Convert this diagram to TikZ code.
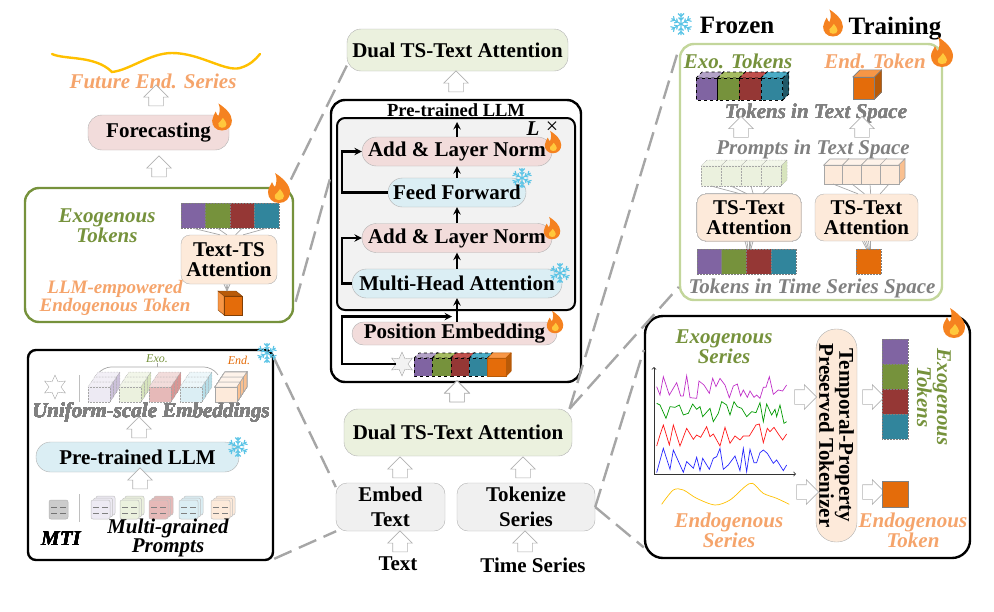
\documentclass[tikz,border=0pt]{standalone}
\usepackage{fontspec}
\setmainfont{Liberation Serif}
\usetikzlibrary{shapes.geometric,shapes.arrows}

\definecolor{zoomgray}{HTML}{A6A6A6}
\definecolor{exogreen}{HTML}{76923C}
\definecolor{endorange}{HTML}{F5A46B}
\definecolor{boxgreen}{HTML}{C3D69B}
\definecolor{pinkfill}{HTML}{F2DCDB}
\definecolor{icefill}{HTML}{DBEEF4}
\definecolor{peachfill}{HTML}{FDEADA}
\definecolor{sagefill}{HTML}{EBF1DE}
\definecolor{curveyellow}{HTML}{FFC000}
\definecolor{flameorange}{HTML}{F58220}
\definecolor{flameyellow}{HTML}{FFC83C}
\definecolor{snowblue}{HTML}{5BC4E6}
% token colours
\definecolor{purfront}{HTML}{8064A2}\definecolor{purtop}{HTML}{B3A2C7}\definecolor{purside}{HTML}{60497A}
\definecolor{grnfront}{HTML}{76923C}\definecolor{grntop}{HTML}{A6BC62}\definecolor{grnside}{HTML}{4F6228}
\definecolor{redfront}{HTML}{953735}\definecolor{redtop}{HTML}{C0504D}\definecolor{redside}{HTML}{632523}
\definecolor{telfront}{HTML}{31859C}\definecolor{teltop}{HTML}{4BACC6}\definecolor{telside}{HTML}{215968}
\definecolor{orafront}{HTML}{E46C0A}\definecolor{oratop}{HTML}{F79646}\definecolor{oraside}{HTML}{B85A08}
% washed out versions
\definecolor{lpurfront}{HTML}{EDEAF3}\definecolor{lpurtop}{HTML}{F2EFF6}\definecolor{lpurside}{HTML}{CCC1DA}
\definecolor{lgrnfront}{HTML}{EBF1DE}\definecolor{lgrntop}{HTML}{F2F6E9}\definecolor{lgrnside}{HTML}{D7E4BD}
\definecolor{lredfront}{HTML}{E6B9B8}\definecolor{lredtop}{HTML}{F2DCDB}\definecolor{lredside}{HTML}{D99694}
\definecolor{lblufront}{HTML}{DBEEF4}\definecolor{lblutop}{HTML}{EDF7FA}\definecolor{lbluside}{HTML}{B7DEE8}
\definecolor{lorafront}{HTML}{FDEADA}\definecolor{loratop}{HTML}{FEF3EA}\definecolor{loraside}{HTML}{FAC090}

\tikzstyle{block} = [rectangle, rounded corners=14pt, draw=gray!60, align=center, inner sep=0pt, font=\fontsize{21}{20}\selectfont\bfseries]
\tikzstyle{pill} = [block, rounded corners=14.5pt, minimum height=29pt]
\tikzstyle{frame} = [rectangle, rounded corners=14pt, line width=2.4pt, draw=black, inner sep=0pt]
\tikzstyle{boldlabel} = [align=center, inner sep=0pt, font=\fontsize{21}{20}\selectfont\bfseries]
\tikzstyle{italabel} = [align=center, inner sep=0pt, font=\fontsize{21}{20}\selectfont\bfseries\itshape]
\tikzstyle{exolabel} = [italabel, text=exogreen]
\tikzstyle{endlabel} = [italabel, text=endorange]
\tikzstyle{graylabel} = [italabel, text=gray]
\tikzstyle{flowline} = [line width=2.2pt, ->, >=stealth]
\tikzstyle{zoomline} = [draw=zoomgray, line width=2.4pt, dash pattern=on 19pt off 8pt]
\tikzstyle{linkline} = [draw=gray!70, line width=0.7pt]
\tikzstyle{rightarrow} = [single arrow, draw=gray!60, fill=white, line width=0.6pt, inner xsep=0pt, inner ysep=7pt, minimum height=22pt, single arrow head extend=5pt]
\tikzstyle{uparrow} = [rightarrow, rotate=90, minimum height=21pt]
\tikzstyle{tokcell} = [rectangle, inner sep=0pt, draw=gray, densely dotted, line width=0.5pt]
\tikzstyle{starmark} = [star, star points=6, star point ratio=2, draw=gray!70, inner sep=0pt, minimum size=24pt]

\tikzset{
  flame/.pic={
    \fill[flameorange] (-4,-15) .. controls (4,-10) and (11,-3) .. (11,4) .. controls (11,10) and (7,15) .. (0,15)
      .. controls (-7,15) and (-11,10) .. (-11,4) .. controls (-11,0) and (-8,-3) .. (-7,-6)
      .. controls (-6,-3) and (-5,-2) .. (-4,-1) .. controls (-2,-6) and (-2,-11) .. (-4,-15) -- cycle;
    \fill[flameyellow] (1,1) .. controls (3,4) and (5,6) .. (5,8) .. controls (5,11) and (3,12) .. (0,12)
      .. controls (-3,12) and (-5,10) .. (-4,7) .. controls (-3,5) and (0,4) .. (1,1) -- cycle;
  },
  snowflake/.pic={
    \foreach \a in {0,60,...,300}
      \draw[rotate=\a, draw=snowblue, line width=1.1pt] (0,0) -- (0,-11)
        (0,-7.5) -- (-3,-10.5) (0,-7.5) -- (3,-10.5) (0,-4) -- (-2.5,-6.5) (0,-4) -- (2.5,-6.5);
  }
}

% [style]{x}{y}{w}{h}{dx}{dy}{palette}
\newcommand{\tokblock}[8][]{
  \draw[#1, fill=#8top] (#2,#3) -- ++(#6,-#7) -- ++(#4,0) -- ++(-#6,#7) -- cycle;
  \draw[#1, fill=#8side] ({#2+#4},#3) -- ++(#6,-#7) -- ++(0,#5) -- ++(-#6,#7) -- cycle;
  \draw[#1, fill=#8front] (#2,#3) rectangle ++(#4,#5);
}
% {x}{y}{palette}
\newcommand{\promptdoc}[3]{
  \foreach \k in {2,1,0}
    \draw[draw=gray!50, fill=#3front, rounded corners=2pt, line width=0.5pt] ({#1+2.5*\k},{#2-2*\k}) rectangle ++(19,19);
  \draw[gray, line width=0.7pt] ({#1+2},{#2+7}) -- ++(6,0) ({#1+11},{#2+7}) -- ++(6,0) ({#1+2},{#2+13}) -- ++(6,0) ({#1+11},{#2+13}) -- ++(6,0);
}

\begin{document}
\begin{tikzpicture}[x=1pt, y=-1pt]
    \useasboundingbox (0,0) rectangle (994,611);

    % left column, forecasting
    \draw [line width=2.4pt, color=curveyellow, line cap=round] (52,54) .. controls (65,60) and (95,55) .. (112,72) .. controls (130,70) and (150,53) .. (172,53) .. controls (200,53) and (225,72) .. (240,68) .. controls (250,65) and (255,60) .. (260,54);
    \node (future) [endlabel] at (153,81) {Future End. Series};
    \node (forecast) [block, fill=pinkfill, minimum width=141pt, minimum height=35pt, rounded corners=14pt] at (158.5,132.5) {Forecasting};
    \node (exobox) [frame, draw=exogreen, minimum width=268pt, minimum height=134pt] at (159,255) {};
    \node (up1) [uparrow] at (156,99) {};
    \node (up2) [uparrow] at (159,170) {};
    \node (exolab) [exolabel] at (107,226) {Exogenous\\Tokens};
    \foreach \c [count=\i] in {purfront,grnfront,redfront,telfront}
        \node (lt\i) [tokcell, fill=\c, minimum width=24.5pt, minimum height=25pt] at ({168.5+24.5*\i},215.5) {};
    \node (textts) [block, fill=peachfill, rounded corners=9pt, minimum width=96pt, minimum height=49pt] at (229,259.5) {Text-TS\\Attention};
    \foreach \i/\a in {1/110,2/95,3/75,4/60}
        \draw [linkline] (lt\i.south) -- (textts.\a);
    \draw [draw=oraside!70!black, fill=oraside, line width=0.4pt] (218,291) -- (236,291) -- (242,296) -- (224,296) -- cycle;
    \draw [draw=oraside!70!black, fill=oratop, line width=0.4pt] (218,291) -- (224,296) -- (224,315) -- (218,310) -- cycle;
    \node (endcube) [rectangle, inner sep=0pt, draw=oraside!70!black, line width=0.4pt, fill=orafront, minimum width=18pt, minimum height=19pt] at (233,305.5) {};
    \coordinate (cubetop) at (227,291);
    \foreach \a in {-3,-1,1,3}
        \draw [linkline] ([xshift=\a pt]textts.south -| cubetop) -- (cubetop);
    \node (llmlab) [endlabel, font=\fontsize{19}{17}\selectfont\bfseries\itshape] at (115,298) {LLM-empowered\\Endogenous Token};

    % left column, prompts
    \node (llmbox) [frame, rounded corners=8pt, minimum width=245pt, minimum height=210pt] at (150.5,455) {};
    \node (exosmall) [italabel, font=\fontsize{12}{12}\selectfont\itshape, text=exogreen] at (157,359) {Exo.};
    \node (endsmall) [italabel, font=\fontsize{12}{12}\selectfont\itshape, text=orafront] at (239,360) {End.};
    \draw [linkline, rounded corners=8pt] (97,375) -- (103,367) -- (212,367) -- (218,375);
    \coordinate (bracetop) at (157,367);
    \draw [linkline] (exosmall.south) -- (bracetop);
    \node (starl) [starmark, fill=white] at (55,387) {};
    \draw [line width=1pt, draw=gray!50] (79,375) -- (79,402);
    \foreach \x/\p in {88/lpur,119/lgrn,149/lred,180/lblu}
        \foreach \k in {2,1,0}
            \tokblock[draw=gray!70, densely dotted, line width=0.5pt]{\x+3.3*\k}{387-5*\k}{22}{15}{3.3}{5}{\p}
    \foreach \k in {2,1,0}
        \tokblock[draw=gray!70, line width=0.5pt]{215+3.3*\k}{387-5*\k}{22}{15}{3.3}{5}{lora}
    \node (uniform) [graylabel] at (151,412) {Uniform-scale Embeddings};
    \node (up3) [uparrow] at (139,431) {};
    \node (pllm) [pill, fill=icefill, minimum width=203pt, minimum height=30pt] at (137.5,457) {Pre-trained LLM};
    \node (up4) [uparrow] at (140,482) {};
    \draw [draw=gray!60, fill=gray!40, rounded corners=2pt, line width=0.5pt] (49,500) rectangle ++(19,19);
    \draw [gray!90!black, line width=0.7pt] (51,507) -- ++(6,0) (60,507) -- ++(6,0) (51,513) -- ++(6,0) (60,513) -- ++(6,0);
    \draw [line width=1pt, draw=gray!50] (79,494) -- (79,522);
    \foreach \x/\p in {91/lpur,120/lgrn,149/lred,179/lblu,211/lora}
        \promptdoc{\x}{500}{\p}
    \node (mti) [italabel, text=black] at (61,539) {MTI};
    \node (grained) [italabel, text=black, font=\fontsize{21}{17}\selectfont\bfseries\itshape] at (168,538) {Multi-grained\\Prompts};

    % middle column
    \node (topdual) [block, fill=sagefill, minimum width=221pt, minimum height=42pt] at (457.5,50) {Dual TS-Text Attention};
    \node (up5) [uparrow] at (456,85) {};
    \node (bigllm) [frame, minimum width=250pt, minimum height=282pt] at (456,241) {};
    \node (llmtitle) [boldlabel, font=\fontsize{18.5}{20}\selectfont\bfseries] at (456,110) {Pre-trained LLM};
    \node (layers) [frame, rounded corners=8pt, line width=2pt, fill=gray!10, minimum width=238pt, minimum height=192pt] at (456,214) {};
    \node (lname) [italabel, text=black] at (533,129) {L};
    \node (ltimes) [boldlabel, font=\fontsize{22}{22}\selectfont] at (552,128) {×};
    \node (msa) [pill, fill=icefill, minimum width=210pt] at (457,283.5) {Multi-Head Attention};
    \node (addb) [pill, fill=pinkfill, minimum width=190pt, above of=msa, node distance=45.5pt] {Add \& Layer Norm};
    \node (ffwd) [pill, fill=icefill, minimum width=138pt, above of=addb, node distance=45.5pt] {Feed Forward};
    \node (addt) [pill, fill=pinkfill, minimum width=190pt, above of=ffwd, node distance=41pt] {Add \& Layer Norm};
    \coordinate (layerout) at (457,122);
    \node (posemb) [pill, fill=pinkfill, minimum width=205pt, minimum height=23pt, rounded corners=11.5pt] at (454.5,333.5) {Position Embedding};
    \draw [flowline] (addt) ++(0,-15) -- (layerout);
    \draw [flowline] (ffwd.north) -- (addt.south);
    \draw [flowline] (addb.north) -- (ffwd.south);
    \draw [flowline] (msa.north) -- (addb.south);
    \draw [flowline] (posemb.north -| msa) -- (msa.south);
    \coordinate (railb) at (342,170);
    \coordinate (railm) at (342,260);
    \coordinate (railp) at (342,340);
    \coordinate (railend) at (452,316.5);
    \draw [flowline, rounded corners=0pt] (ffwd.west) -| (railb) |- (addt.west);
    \draw [flowline] (msa.west) -| (railm) |- (addb.west);
    \node (stark) [starmark, fill=gray!10] at (402,364) {};
    \draw [flowline] (stark.west) -| (railp) |- (railend);
    \foreach \x/\p in {414/pur,432.4/grn,450.8/red,469.2/tel}
        \tokblock[draw=black, dashed, line width=0.6pt]{\x}{358}{18.4}{18}{5}{5}{\p}
    \tokblock[draw=oraside, line width=0.4pt]{487.6}{358}{18.4}{18}{5}{5}{ora}
    \node (up6) [uparrow] at (457,395) {};
    \node (botdual) [block, fill=sagefill, minimum width=228pt, minimum height=47pt] at (458,432.5) {Dual TS-Text Attention};
    \node (embed) [block, fill=gray!12, rounded corners=11pt, minimum width=109pt, minimum height=48pt, font=\fontsize{21}{25}\selectfont\bfseries] at (390.5,507) {Embed\\Text};
    \node (tokz) [block, fill=gray!12, rounded corners=11pt, minimum width=138pt, minimum height=48pt, font=\fontsize{21}{25}\selectfont\bfseries] at (526,507) {Tokenize\\Series};
    \node (up7) [uparrow] at (400,471) {};
    \node (up8) [uparrow] at (523,471) {};
    \node (up9) [uparrow] at (400,545) {};
    \node (up10) [uparrow] at (525,545) {};
    \node (textin) [boldlabel] at (398,564) {Text};
    \node (seriesin) [boldlabel] at (533,565) {Time Series};

    % right column, text space
    \node (txtbox) [frame, draw=boxgreen, minimum width=262pt, minimum height=256pt] at (811,172) {};
    \pic at (681,24) {snowflake};
    \node (frozen) [boldlabel, font=\fontsize{25}{25}\selectfont\bfseries] at (737,25) {Frozen};
    \pic [scale=0.9] at (833,23) {flame};
    \node (training) [boldlabel, font=\fontsize{25}{25}\selectfont\bfseries] at (895,28.5) {Training};
    \node (exotk) [exolabel] at (738,61) {Exo. Tokens};
    \node (endtk) [endlabel] at (875,61) {End. Token};
    \foreach \x/\p in {696/pur,717.7/grn,739.4/red,761.1/tel}
        \tokblock[draw=black, dashed, line width=0.7pt]{\x}{78}{21.7}{22}{6}{6}{\p}
    \tokblock[draw=gray, line width=0.4pt]{853}{77}{21.5}{22}{7}{7}{ora}
    \node (txttok) [graylabel] at (816,113) {Tokens in Text Space};
    \node (up11) [uparrow] at (741,130.5) {};
    \node (up12) [uparrow] at (862,130.5) {};
    \node (txtprm) [graylabel] at (813,149) {Prompts in Text Space};
    \foreach \x [count=\i] in {701,721,741,761}
        \tokblock[draw=gray!70, densely dotted, line width=0.5pt]{\x}{166}{20}{20}{6}{6}{lgrn}
    \foreach \x [count=\i] in {824,842.7,861.4,880.1}
        \tokblock[draw=gray!70, line width=0.5pt]{\x}{165}{18.7}{19}{6}{6}{lora}
    \node (attnl) [block, fill=peachfill, rounded corners=9pt, minimum width=104pt, minimum height=47pt] at (749,217.5) {TS-Text\\Attention};
    \node (attnr) [block, fill=peachfill, rounded corners=9pt, minimum width=103pt, minimum height=47pt] at (866.5,217.5) {TS-Text\\Attention};
    \foreach \x/\a in {711/110,731/95,751/80,771/60}{
        \coordinate (gl\x) at (\x,186);
        \draw [linkline] (gl\x) -- (attnl.\a);
    }
    \foreach \x/\a in {833/110,852/95,870/80,889/60}{
        \coordinate (pl\x) at (\x,184);
        \draw [linkline] (pl\x) -- (attnr.\a);
    }
    \foreach \c [count=\i] in {purfront,grnfront,redfront,telfront}
        \node (rt\i) [tokcell, fill=\c, minimum width=24.7pt, minimum height=25pt] at ({684.6+24.7*\i},261.5) {};
    \node (rtend) [tokcell, fill=orafront, minimum width=25pt, minimum height=25pt] at (868.5,261.5) {};
    \foreach \a in {-4,-2,0,2,4}{
        \draw [linkline] ([xshift=\a pt]attnl.south) -- ([xshift=0.5*\a pt]attnl.south |- rt1.north);
        \draw [linkline] ([xshift=\a pt]attnr.south) -- ([xshift=0.5*\a pt]rtend.north);
    }
    \node (tstok) [graylabel] at (812,288) {Tokens in Time Series Space};

    % right column, tokenizer
    \node (serbox) [frame, rounded corners=18pt, minimum width=325pt, minimum height=242pt] at (807.5,437) {};
    \node (exoser) [exolabel] at (724,347) {Exogenous\\Series};
    \coordinate (origin) at (654,474);
    \coordinate (ytop) at (654,367);
    \coordinate (xend) at (796,474);
    \draw [line width=0.8pt, draw=black!80, <->, >=to] (ytop) -- (origin) -- (xend);
    \begin{scope}[shift={(630,310)}, x=0.3333pt, y=-0.3333pt, line width=0.7pt]
        \draw [color={rgb,255:red,192;green,48;blue,200}] plot coordinates {(80,230)(90,255)(100,200)(118,255)(140,218)(152,258)(160,258)(170,197)(180,263)(200,265)(207,213)(222,225)(238,250)(248,205)(258,230)(270,205)(285,225)(298,263)(310,228)(322,222)(332,258)(340,240)(352,262)(360,243)(372,262)(380,255)(390,265)(400,232)(408,232)(418,200)(430,253)(445,240)(458,243)(470,225)};
        \draw [green!60!black] plot coordinates {(80,280)(90,285)(108,325)(120,290)(135,292)(148,285)(160,315)(175,310)(188,282)(200,298)(210,290)(218,320)(240,295)(250,335)(265,310)(275,275)(290,285)(300,315)(312,275)(322,290)(335,295)(350,320)(365,305)(378,308)(390,278)(400,335)(410,282)(425,315)(435,298)(440,320)(450,285)(462,340)(470,335)};
        \draw [red!90!white] plot coordinates {(80,408)(90,375)(100,345)(118,405)(130,345)(150,408)(170,355)(190,388)(200,375)(212,382)(230,350)(240,380)(250,372)(270,408)(285,352)(300,400)(315,378)(330,390)(340,378)(358,378)(378,345)(388,342)(400,398)(412,355)(420,365)(432,352)(445,372)(458,390)(470,372)};
        \draw [blue!85!white] plot coordinates {(80,488)(100,415)(120,478)(130,420)(160,487)(170,455)(190,475)(200,442)(210,482)(218,445)(238,478)(250,445)(260,440)(270,415)(280,478)(295,465)(315,438)(330,482)(340,415)(350,485)(360,418)(372,458)(380,458)(390,428)(400,420)(412,430)(430,460)(440,450)(460,482)(470,465)};
        \draw [curveyellow] plot [smooth] coordinates {(95,583)(130,540)(160,540)(200,565)(255,585)(300,570)(345,530)(368,520)(400,550)(440,565)(478,583)};
    \end{scope}
    \node (endser) [endlabel] at (729,530) {Endogenous\\Series};
    \node (tptok) [block, fill=peachfill, rounded corners=20pt, rotate=-90, minimum width=213pt, minimum height=41pt] at (836.5,435.5) {Temporal-Property\\Preserved Tokenizer};
    \node (r1) [rightarrow] at (802,397) {};
    \node (r2) [rightarrow] at (804,492) {};
    \node (r3) [rightarrow] at (870,397) {};
    \node (r4) [rightarrow] at (870,492) {};
    \foreach \c [count=\i] in {purfront,grnfront,redfront,telfront}
        \node (ct\i) [tokcell, fill=\c, minimum width=26pt, minimum height=25pt] at (895,{326.5+25*\i}) {};
    \node (ctend) [tokcell, fill=orafront, draw=gray, solid, minimum width=26pt, minimum height=26pt] at (895,494) {};
    \node (exotok) [exolabel, rotate=-90] at (934,397) {Exogenous\\Tokens};
    \node (endtok) [endlabel] at (913,530) {Endogenous\\Token};

    % links between the panels
    \draw [zoomline] (topdual.188) -- (exobox.28);
    \draw [zoomline] (bigllm.154) -- (exobox.-21);
    \draw [zoomline] (llmbox.38) -- (embed.160);
    \draw [zoomline] (llmbox.-40) -- (embed.204);
    \draw [zoomline] (botdual.12) -- (txtbox.137);
    \draw [zoomline] (botdual.12) -- (txtbox.221);
    \draw [zoomline] (tokz.east) -- (serbox.152);
    \draw [zoomline] (tokz.east) -- (serbox.214);

    % frozen and trained parts
    \pic [scale=0.9] at (222,117) {flame};
    \pic at (279,188) {flame};
    \pic at (942,52) {flame};
    \pic at (954,323) {flame};
    \pic [scale=0.75] at (553,142) {flame};
    \pic [scale=0.75] at (552,228) {flame};
    \pic [scale=0.75] at (555,322) {flame};
    \pic [scale=0.9] at (267,353) {snowflake};
    \pic [scale=0.9] at (238,447) {snowflake};
    \pic [scale=0.9] at (522,178) {snowflake};
    \pic [scale=0.9] at (560,273) {snowflake};
\end{tikzpicture}
\end{document}
